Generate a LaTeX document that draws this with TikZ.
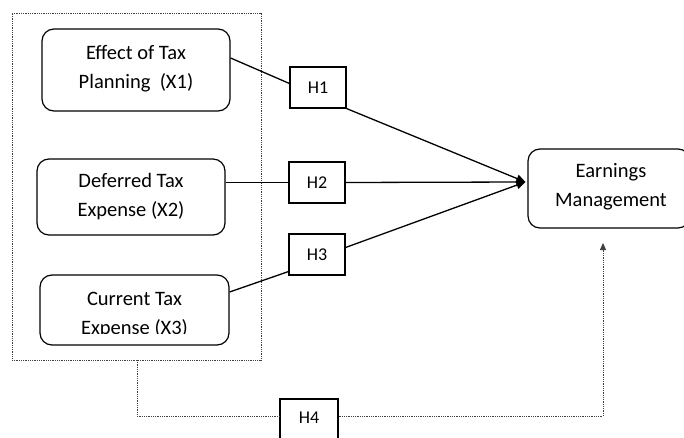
\documentclass[tikz,border=0pt]{standalone}
\usepackage{fontspec}
\setmainfont{Carlito}
\usetikzlibrary{arrows.meta,calc}
\tikzset{
  varbox/.style={draw, line width=1.2pt, rounded corners=12pt, inner sep=0pt},
  hbox/.style={draw, line width=1.1pt, minimum width=56pt, minimum height=41pt, inner sep=0pt, font=\fontsize{18}{20}\selectfont},
  vtext/.style={align=center, font=\fontsize{20.5}{29}\selectfont},
  link/.style={line width=1.3pt},
  dotline/.style={draw=black!75, line width=0.8pt, densely dotted},
  bigtip/.style={-{Triangle[length=9pt,width=8pt]}},
}
\begin{document}
\begin{tikzpicture}[x=1pt,y=-1pt]
\clip (0,0) rectangle (684,438);
\fill[white] (0,0) rectangle (684,438);
% dotted group box
\node[dotline, minimum width=249pt, minimum height=347pt, inner sep=0pt] (grp) at (136.5,186.5) {};
% variable boxes
\node[varbox, minimum width=188pt, minimum height=82pt] (x1) at (136,70) {};
\node[vtext] (x1t) at (136,69) {Effect of Tax\\Planning\ \ (X1)};
\node[varbox, minimum width=188pt, minimum height=76pt] (x2) at (131,197) {};
\node[vtext] (x2t) at (131,197) {Deferred Tax\\Expense (X2)};
\node[varbox, minimum width=189pt, minimum height=70pt] (x3) at (134.5,310) {};
\begin{scope}
\clip (0,0) rectangle (684,333.5);
\node[vtext] (x3t) at (134.5,315) {Current Tax\\Expense (X3)};
\end{scope}
% hypothesis boxes
\node[hbox] (h1) at (318,87.5) {H1};
\node[hbox] (h2) at (317,182.5) {H2};
\node[hbox] (h3) at (317,254.5) {H3};
\node[hbox, minimum width=58pt, minimum height=44pt] (h4) at (309,421) {};
\node[font=\fontsize{18}{20}\selectfont] (h4t) at (309,418) {H4};
% dependent variable
\node[varbox, minimum width=162pt, minimum height=79pt] (em) at (609,188.5) {};
\node[vtext] (emt) at (611,187) {Earnings\\Management};
% connector points
\coordinate (tip) at ($(em.west)+(-2,-6.5)$);
\coordinate (x1o) at ($(x1.east)+(0,-12)$);
\coordinate (h1i) at ($(h1.west)+(0,-4)$);
\coordinate (x3o) at ($(x3.east)+(0,-18)$);
\coordinate (h3i) at ($(h3.south west)+(0,-4)$);
\coordinate (h3o) at ($(h3.east)+(0,-7)$);
\coordinate (gb) at (137,360);
\coordinate (corner1) at (137,416);
\coordinate (corner2) at (603,416);
\coordinate (emb) at (603,243);
% solid links
\draw[link] (x1o) -- (h1i);
\draw[link, bigtip] (h1.south east) -- (tip);
\draw[link] (x2.east |- h2.west) -- (h2.west);
\draw[link, bigtip] (h2.east) -- (tip);
\draw[link] (x3o) -- (h3i);
\draw[link, bigtip] (h3o) -- (tip);
% dotted H4 link
\draw[dotline] (gb) -- (corner1) -- (h4.west |- corner1);
\draw[dotline, -{Triangle[length=7pt,width=6pt]}] (h4.east |- corner2) -- (corner2) -- (emb);
\end{tikzpicture}
\end{document}
